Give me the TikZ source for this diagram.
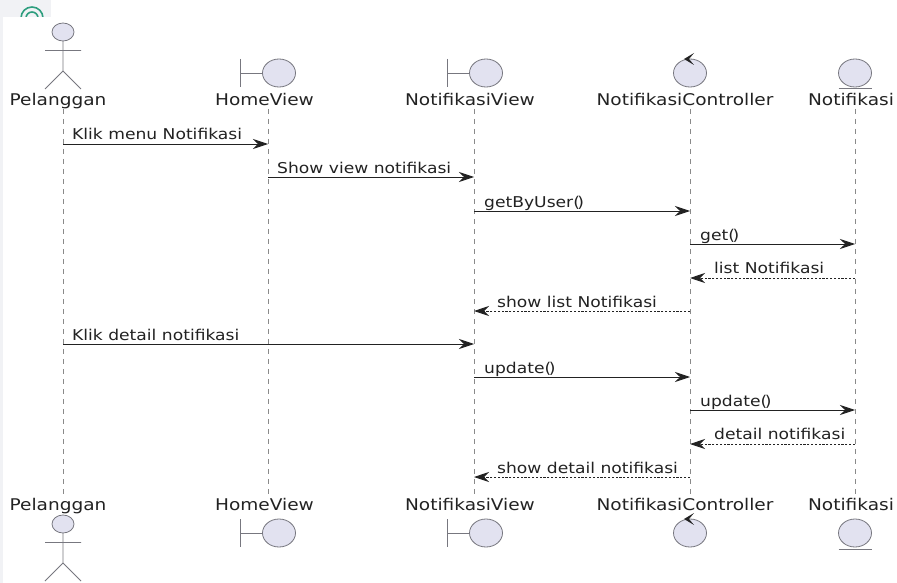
\documentclass[tikz,border=0pt]{standalone}
\usepackage{fontspec}
\setmainfont{DejaVu Sans}
\newfontfamily\widesans[FakeStretch=1.15]{DejaVu Sans}
\usetikzlibrary{arrows.meta}
\definecolor{bodyfill}{HTML}{E2E2F0}
\definecolor{bodyline}{HTML}{77777F}
\definecolor{lifecol}{HTML}{8A8A8A}
\definecolor{inkcol}{HTML}{222222}
\definecolor{sidebar}{HTML}{F1F2F5}
\definecolor{icongreen}{HTML}{2E9E7E}
\tikzset{
  x=1pt,y=-1pt,
  head/.style={inkcol,font=\widesans\fontsize{16.1}{18}\selectfont,inner sep=0pt,anchor=base},
  msglabel/.style={inkcol,font=\widesans\fontsize{14.9}{16}\selectfont,inner sep=0pt,anchor=base west},
  glyph/.style={draw=bodyline,fill=bodyfill,line width=.8pt},
  stick/.style={draw=bodyline,line width=.8pt},
  life/.style={draw=lifecol,line width=.8pt,dash pattern=on 5pt off 5pt},
  call/.style={draw=inkcol,line width=.9pt,-{Stealth[length=15pt,width=10pt,inset=5pt]}},
  ret/.style={draw=inkcol,line width=.9pt,dash pattern=on 2.2pt off 1.6pt,-{Stealth[length=15pt,width=10pt,inset=5pt]}},
}
\newcommand{\tightparens}{(\kern-2.5pt)}
\newcommand{\actorglyph}[2]{%
  \draw[glyph] (#1,#2) ellipse (11 and 9);
  \draw[stick] (#1,#2+9) -- (#1,#2+39) (#1-18,#2+18.5) -- (#1+18,#2+18.5)
    (#1-18,#2+57) -- (#1,#2+39) -- (#1+18,#2+57);}
\newcommand{\boundaryglyph}[2]{%
  \draw[stick] (#1-39,#2-14) -- (#1-39,#2+14) (#1-39,#2) -- (#1-17,#2);
  \draw[glyph] (#1,#2) ellipse (16.5 and 14);}
\newcommand{\controlglyph}[2]{%
  \draw[glyph] (#1,#2) ellipse (16.5 and 14);
  \fill[inkcol] (#1-6,#2-14) -- (#1+4,#2-20) -- (#1-1,#2-14) -- (#1+4,#2-8) -- cycle;}
\newcommand{\entityglyph}[2]{%
  \draw[glyph] (#1,#2) ellipse (16.5 and 14);
  \draw[stick,line width=1pt] (#1-16.5,#2+16) -- (#1+16.5,#2+16);}
\begin{document}
\begin{tikzpicture}
\useasboundingbox (0,0) rectangle (897,583);
\fill[white] (0,0) rectangle (897,583);
\fill[sidebar] (0,0) rectangle (3,583);
\fill[sidebar] (0,0) rectangle (51,17);
\begin{scope}
\clip (0,0) rectangle (60,17);
\draw[icongreen,line width=1.6pt] (32,18) ellipse (11 and 11);
\draw[icongreen,line width=1.6pt] (32,18) ellipse (6 and 6);
\end{scope}
% heads
\node[head] (pa) at (58,106) {Pelanggan};
\node[head] (ha) at (264.5,106) {HomeView};
\node[head] (na) at (470,106) {NotifikasiView};
\node[head] (ca) at (685,106) {NotifikasiController};
\node[head] (ea) at (851,106) {Notifikasi};
\node[head] (pb) at (58,510) {Pelanggan};
\node[head] (hb) at (264.5,510) {HomeView};
\node[head] (nb) at (470,510) {NotifikasiView};
\node[head] (cb) at (685,510) {NotifikasiController};
\node[head] (eb) at (851,510) {Notifikasi};
% lifeline anchor coordinates
\coordinate (pt) at (63,109); \coordinate (pe) at (63,496);
\coordinate (ht) at (268,109); \coordinate (he) at (268,496);
\coordinate (nt) at (474,109); \coordinate (ne) at (474,496);
\coordinate (ct) at (690,109); \coordinate (ce) at (690,496);
\coordinate (et) at (855,109); \coordinate (ee) at (855,496);
\draw[life] (pt) -- (pe);
\draw[life] (ht) -- (he);
\draw[life] (nt) -- (ne);
\draw[life] (ct) -- (ce);
\draw[life] (et) -- (ee);
% glyphs
\actorglyph{63}{32}
\boundaryglyph{279}{73}
\boundaryglyph{486}{73}
\controlglyph{690}{73}
\entityglyph{855}{73}
\actorglyph{63}{524}
\boundaryglyph{279}{533}
\boundaryglyph{486}{533}
\controlglyph{690}{533}
\entityglyph{855}{533}
% messages
\coordinate (m1a) at (63,144); \coordinate (m1b) at (268,144);
\coordinate (m2a) at (268,177); \coordinate (m2b) at (474,177);
\coordinate (m3a) at (474,211); \coordinate (m3b) at (690,211);
\coordinate (m4a) at (690,244); \coordinate (m4b) at (855,244);
\coordinate (m5a) at (855,278); \coordinate (m5b) at (690,278);
\coordinate (m6a) at (690,311); \coordinate (m6b) at (474,311);
\coordinate (m7a) at (63,344); \coordinate (m7b) at (474,344);
\coordinate (m8a) at (474,377); \coordinate (m8b) at (690,377);
\coordinate (m9a) at (690,410); \coordinate (m9b) at (855,410);
\coordinate (m10a) at (855,444); \coordinate (m10b) at (690,444);
\coordinate (m11a) at (690,477); \coordinate (m11b) at (474,477);
\draw[call] (m1a) -- (m1b);
\draw[call] (m2a) -- (m2b);
\draw[call] (m3a) -- (m3b);
\draw[call] (m4a) -- (m4b);
\draw[ret] (m5a) -- (m5b);
\draw[ret] (m6a) -- (m6b);
\draw[call] (m7a) -- (m7b);
\draw[call] (m8a) -- (m8b);
\draw[call] (m9a) -- (m9b);
\draw[ret] (m10a) -- (m10b);
\draw[ret] (m11a) -- (m11b);
\node[msglabel] (l1) at (72,140) {Klik menu Notifikasi};
\node[msglabel] (l2) at (277,173) {Show view notifikasi};
\node[msglabel] (l3) at (484,207) {getByUser\tightparens};
\node[msglabel] (l4) at (700,240) {get\tightparens};
\node[msglabel] (l5) at (714,273) {list Notifikasi};
\node[msglabel] (l6) at (497,307) {show list Notifikasi};
\node[msglabel] (l7) at (72,340) {Klik detail notifikasi};
\node[msglabel] (l8) at (484,373) {update\tightparens};
\node[msglabel] (l9) at (700,406) {update\tightparens};
\node[msglabel] (l10) at (714,439) {detail notifikasi};
\node[msglabel] (l11) at (497,473) {show detail notifikasi};
\end{tikzpicture}
\end{document}
